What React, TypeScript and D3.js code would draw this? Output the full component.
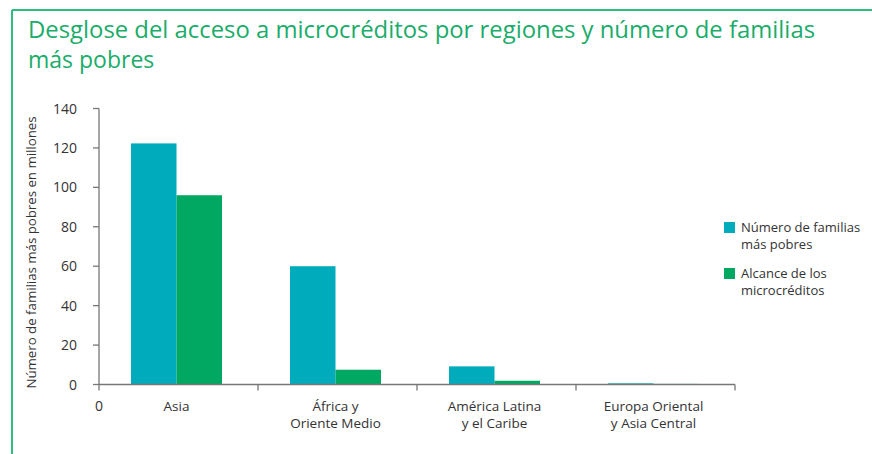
import React from "react";
import * as d3 from "d3";

const categories: string[][] = [
  ["Asia"],
  ["África y", "Oriente Medio"],
  ["América Latina", "y el Caribe"],
  ["Europa Oriental", "y Asia Central"],
];
const seriesNames: string[][] = [
  ["Número de familias", "más pobres"],
  ["Alcance de los", "microcréditos"],
];
const poorestFamilies: number[] = [122.3, 60.0, 9.2, 0.6];
const microcreditReach: number[] = [96.0, 7.5, 1.9, 0.3];
const yTicks: number[] = [0, 20, 40, 60, 80, 100, 120, 140];
const titleLines: string[] = [
  "Desglose del acceso a microcréditos por regiones y número de familias",
  "más pobres",
];
const yAxisTitle = "Número de familias más pobres en millones";

const COLORS = ["#00acbc", "#00a862"];
const FRAME = "#2cbf80";
const TEXT = "#333333";
const AXIS = "#777777";
const FONT = "'Open Sans', 'Noto Sans', sans-serif";

export default function App() {
  const W = 872;
  const H = 454;
  const x0 = 99;
  const x1 = 735;
  const yTop = 108.5;
  const yBot = 384.5;

  const x = d3
    .scaleBand<number>()
    .domain(d3.range(categories.length))
    .range([x0, x1])
    .paddingInner(0)
    .paddingOuter(0);
  const y = d3.scaleLinear().domain([0, 140]).range([yBot, yTop]);
  const groupW = 91;
  const inner = d3
    .scaleBand<number>()
    .domain([0, 1])
    .range([0, groupW])
    .padding(0);

  const series = [poorestFamilies, microcreditReach];

  return (
    <svg
      width={W}
      height={H}
      style={{ position: "absolute", left: 0, top: 0, display: "block", background: "#fff" }}
      fontFamily={FONT}
    >
      {/* frame */}
      <line x1={12} y1={10} x2={W} y2={10} stroke={FRAME} strokeWidth={2} />
      <line x1={12} y1={10} x2={12} y2={H} stroke={FRAME} strokeWidth={2} />

      {/* title */}
      {titleLines.map((t, i) => (
        <text
          key={i}
          x={28}
          y={38 + i * 30}
          fontSize={23}
          fill="#1aac6a"
          fontFamily="'Open Sans', sans-serif"
          textLength={i === 0 ? 787 : undefined}
          lengthAdjust="spacingAndGlyphs"
        >
          {t}
        </text>
      ))}

      {/* y axis title */}
      <text
        transform={`translate(36, ${(yTop + yBot) / 2 + 6}) rotate(-90)`}
        textAnchor="middle"
        fontSize={13.5}
        fill={TEXT}
        textLength={272}
        lengthAdjust="spacingAndGlyphs"
      >
        {yAxisTitle}
      </text>

      {/* bars */}
      {categories.map((_, ci) => {
        const gx = (x(ci) as number) + (x.bandwidth() - groupW) / 2 - 2;
        return series.map((s, si) => (
          <rect
            key={`${ci}-${si}`}
            x={gx + (inner(si) as number)}
            y={y(s[ci])}
            width={inner.bandwidth()}
            height={yBot - y(s[ci])}
            fill={COLORS[si]}
          />
        ));
      })}

      {/* y axis */}
      <line x1={x0} y1={yTop} x2={x0} y2={yBot} stroke={AXIS} strokeWidth={1.3} />
      {yTicks.map((t) => (
        <g key={t}>
          <line x1={x0 - 6} y1={y(t)} x2={x0} y2={y(t)} stroke={AXIS} strokeWidth={1.3} />
          <text x={77} y={y(t) + 5} textAnchor="end" fontSize={14} fill={TEXT}>
            {t}
          </text>
        </g>
      ))}

      {/* x axis */}
      <line x1={x0} y1={yBot} x2={x1} y2={yBot} stroke={AXIS} strokeWidth={1.5} />
      {d3.range(categories.length + 1).map((i) => {
        const xx = i < categories.length ? (x(i) as number) : x1;
        return (
          <line key={i} x1={xx} y1={yBot} x2={xx} y2={yBot + 6} stroke={AXIS} strokeWidth={1.3} />
        );
      })}
      <text x={x0} y={411} textAnchor="middle" fontSize={14} fill={TEXT}>
        0
      </text>
      {categories.map((lines, ci) => (
        <text
          key={ci}
          x={(x(ci) as number) + x.bandwidth() / 2 - 2}
          textAnchor="middle"
          fontSize={13.5}
          fill={TEXT}
        >
          {lines.map((l, li) => (
            <tspan key={li} x={(x(ci) as number) + x.bandwidth() / 2 - 2} y={411 + li * 17}>
              {l}
            </tspan>
          ))}
        </text>
      ))}

      {/* legend */}
      {seriesNames.map((lines, si) => {
        const top = 221 + si * 46;
        return (
          <g key={si}>
            <rect x={724} y={top + 1} width={11} height={11} fill={COLORS[si]} />
            <text x={741} fontSize={13} fill={TEXT}>
              {lines.map((l, li) => (
                <tspan key={li} x={741} y={top + 10.5 + li * 17.5}>
                  {l}
                </tspan>
              ))}
            </text>
          </g>
        );
      })}
    </svg>
  );
}
